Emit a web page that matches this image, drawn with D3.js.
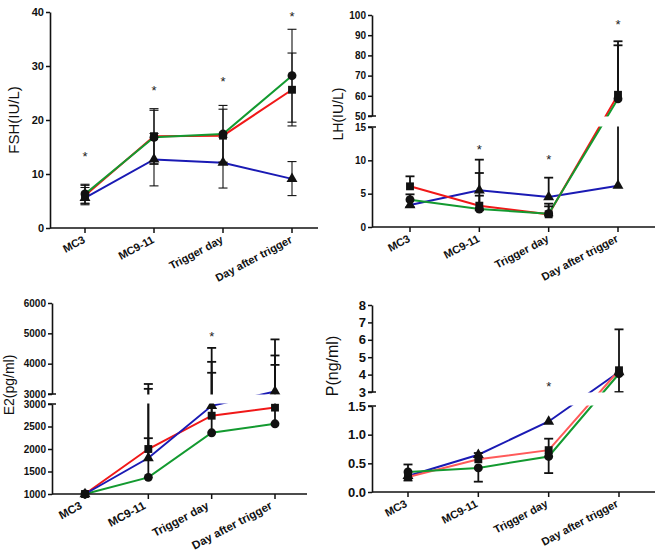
<!DOCTYPE html>
<html lang="en">
<head>
<meta charset="UTF-8">
<title>Hormone levels by day</title>
<script src="https://d3js.org/d3.v7.min.js"></script>
<style>
  body { margin: 0; background: #fff; }
  svg { display: block; font-family: "Liberation Sans", Arial, sans-serif; }
</style>
</head>
<body>
<div id="chart"></div>
<script>
const days = ["MC3", "MC9-11", "Trigger day", "Day after trigger"];

// FSH (IU/L)
const fshRed = [6.0, 17.0, 17.1, 25.6];
const fshRedHi = [7.9, 22.1, 22.0, 32.4];
const fshRedLo = [4.5, 11.9, 12.2, 18.9];
const fshGreen = [6.3, 16.8, 17.4, 28.2];
const fshGreenHi = [8.1, 21.8, 22.7, 36.8];
const fshGreenLo = [4.6, 11.8, 12.1, 19.6];
const fshBlue = [5.6, 12.7, 12.1, 9.1];
const fshBlueHi = [7.5, 17.5, 16.8, 12.3];
const fshBlueLo = [4.3, 7.8, 7.4, 6.0];
const fshStars = [13.5, 25.8, 27.4, 39.5];
const fshTicks = [0, 10, 20, 30, 40];

// LH (IU/L)
const lhRed = [6.1, 3.2, 1.9, 60.5];
const lhRedHi = [7.6, 8.1, 3.5, 87];
const lhRedLo = [6.1, 3.2, 1.9, 60.5];
const lhGreen = [4.1, 2.7, 2.0, 58.5];
const lhGreenHi = [4.9, 4.7, 3.1, 85];
const lhGreenLo = [4.1, 2.5, 1.7, 58.5];
const lhBlue = [3.3, 5.5, 4.5, 6.2];
const lhBlueHi = [3.3, 10.1, 7.4, 40];
const lhBlueLo = [3.0, 5.5, 4.5, 6.2];
const lhStars = [null, 11.9, 10.3, 96];
const lhTicksLow = [0, 5, 10, 15];
const lhTicksHigh = [50, 60, 70, 80, 90, 100];

// E2 (pg/ml)
const e2Red = [1000, 2000, 2740, 2920];
const e2RedHi = [1000, 3330, 4520, 4270];
const e2Green = [1000, 1370, 2360, 2560];
const e2GreenHi = [1000, 2240, 3700, 3960];
const e2Blue = [1000, 1800, 2960, 3080];
const e2BlueHi = [1000, 3170, 4060, 4800];
const e2Stars = [null, null, 4950, null];
const e2TicksLow = [1000, 1500, 2000, 2500, 3000];
const e2TicksHigh = [3000, 4000, 5000, 6000];

// P (ng/ml)
const pRed = [0.26, 0.57, 0.73, 4.25];
const pRedHi = [0.48, 0.57, 0.93, 6.6];
const pRedLo = [0.20, 0.57, 0.73, 4.25];
const pGreen = [0.35, 0.42, 0.62, 4.05];
const pGreenHi = [0.35, 0.42, 0.62, 4.05];
const pGreenLo = [0.35, 0.18, 0.33, 3.0];
const pBlue = [0.28, 0.65, 1.23, 4.15];
const pBlueHi = [0.28, 0.68, 1.23, 4.15];
const pStars = [null, null, 3.4, null];
const pTicksLow = [0, 0.5, 1.0, 1.5];
const pTicksHigh = [3, 4, 5, 6, 7, 8];

const RED = "#f01818", GREEN = "#139a30", BLUE = "#1a1ab4", PINK = "#ff5a5a";

const svg = d3.select("#chart").append("svg")
    .attr("width", 660).attr("height", 555);

function panel(c) {
  const g = svg.append("g");
  const x = d3.scalePoint().domain(days).range(c.cats);
  // polylinear scale: lower segment then upper segment, gap squeezed between
  const dom = [], rng = [];
  c.segs.forEach(s => { dom.push(s.dom[0], s.dom[1]); rng.push(s.px[0], s.px[1]); });
  const y = d3.scaleLinear().domain(dom).range(rng).clamp(true);

  // lines
  c.series.forEach(s => {
    g.append("path")
      .datum(s.vals)
      .attr("fill", "none")
      .attr("stroke", s.color)
      .attr("stroke-width", c.lw)
      .attr("d", d3.line().x((d, i) => x(days[i])).y(d => y(d)));
  });

  // error bars
  c.series.forEach(s => {
    s.vals.forEach((v, i) => {
      const ends = [];
      if (s.hi && s.hi[i] > v) ends.push(s.hi[i]);
      if (s.lo && s.lo[i] < v) ends.push(s.lo[i]);
      ends.forEach(e => {
        const xx = x(days[i]);
        g.append("line").attr("x1", xx).attr("x2", xx)
          .attr("y1", y(v)).attr("y2", y(e))
          .attr("stroke", "#111").attr("stroke-width", c.ew);
        g.append("line").attr("x1", xx - 4.5).attr("x2", xx + 4.5)
          .attr("y1", y(e)).attr("y2", y(e))
          .attr("stroke", "#111").attr("stroke-width", c.ew);
      });
    });
  });

  // markers
  c.series.forEach(s => {
    g.selectAll(null).data(s.vals).join("path")
      .attr("transform", (d, i) => `translate(${x(days[i])},${y(d)})`)
      .attr("d", d3.symbol().type(s.marker).size(s.marker === d3.symbolTriangle ? 52 : 62))
      .attr("fill", "#111");
  });

  // white band over the axis break
  if (c.segs.length > 1) {
    const a = c.segs[0].px[1], b = c.segs[1].px[0];
    g.append("rect").attr("x", c.axisX + 1).attr("y", b + 0.5)
      .attr("width", c.axisEnd - c.axisX + 10).attr("height", a - b - 1)
      .attr("fill", "#fff");
  }

  // y axis segments
  c.segs.forEach((s, k) => {
    const sy = d3.scaleLinear().domain(s.dom).range(s.px);
    const ax = g.append("g")
      .attr("transform", `translate(${c.axisX},0)`)
      .call(d3.axisLeft(sy).tickValues(s.ticks).tickSize(4).tickSizeOuter(0)
        .tickPadding(2).tickFormat(s.fmt || d3.format("d")));
    ax.select(".domain").attr("stroke-width", 1.6).attr("stroke", "#111");
    ax.selectAll(".tick line").attr("stroke-width", 1.5).attr("stroke", "#111");
    ax.selectAll(".tick text").attr("font-size", c.tf).attr("font-weight", "bold")
      .attr("fill", "#111").attr("font-family", "Liberation Sans, Arial, sans-serif");
    if (c.segs.length > 1) {
      const edge = k === 0 ? s.px[1] : s.px[0];
      g.append("line").attr("x1", c.axisX - 4).attr("x2", c.axisX + 4)
        .attr("y1", edge).attr("y2", edge).attr("stroke", "#111").attr("stroke-width", 1.5);
    }
  });

  // x axis
  const base = c.segs[0].px[0];
  g.append("line").attr("x1", c.axisX).attr("x2", c.axisEnd)
    .attr("y1", base).attr("y2", base).attr("stroke", "#111").attr("stroke-width", 1.6);
  days.forEach(d => {
    g.append("line").attr("x1", x(d)).attr("x2", x(d))
      .attr("y1", base).attr("y2", base + 5).attr("stroke", "#111").attr("stroke-width", 1.5);
    g.append("text")
      .attr("transform", `translate(${x(d) + c.xo},${base + 14}) rotate(${c.rot})`)
      .attr("text-anchor", "end")
      .attr("font-size", c.xf).attr("font-weight", "bold").attr("fill", "#111")
      .text(d);
  });

  // significance marks
  c.stars.forEach((v, i) => {
    if (v == null) return;
    g.append("text").attr("x", x(days[i])).attr("y", y(v) + 6)
      .attr("text-anchor", "middle").attr("font-size", 13).attr("fill", "#222").text("*");
  });

  // axis title
  g.append("text")
    .attr("transform", `translate(${c.titleX},${c.titleY}) rotate(-90)`)
    .attr("text-anchor", "middle").attr("font-size", c.titleF).attr("fill", "#111")
    .text(c.title);
}

panel({
  axisX: 50, axisEnd: 318, cats: [85, 292], lw: 2, ew: 1.1, tf: 11, xf: 11, rot: -28, xo: 1,
  segs: [{ dom: [0, 40], px: [228, 12], ticks: fshTicks }],
  series: [
    { vals: fshBlue, hi: fshBlueHi, lo: fshBlueLo, color: BLUE, marker: d3.symbolTriangle },
    { vals: fshRed, hi: fshRedHi, lo: fshRedLo, color: RED, marker: d3.symbolSquare },
    { vals: fshGreen, hi: fshGreenHi, lo: fshGreenLo, color: GREEN, marker: d3.symbolCircle }
  ],
  stars: fshStars, title: "FSH(IU/L)", titleX: 19, titleY: 120, titleF: 15
});

panel({
  axisX: 372, axisEnd: 655, cats: [410, 618], lw: 2, ew: 1.8, tf: 10, xf: 11, rot: -28, xo: 1,
  segs: [
    { dom: [0, 15], px: [227, 127], ticks: lhTicksLow },
    { dom: [50, 100], px: [116, 15], ticks: lhTicksHigh }
  ],
  series: [
    { vals: lhBlue, hi: lhBlueHi, lo: lhBlueLo, color: BLUE, marker: d3.symbolTriangle },
    { vals: lhRed, hi: lhRedHi, lo: lhRedLo, color: RED, marker: d3.symbolSquare },
    { vals: lhGreen, hi: lhGreenHi, lo: lhGreenLo, color: GREEN, marker: d3.symbolCircle }
  ],
  stars: lhStars, title: "LH(IU/L)", titleX: 343, titleY: 114, titleF: 14
});

panel({
  axisX: 52, axisEnd: 307, cats: [85, 275], lw: 2, ew: 1.8, tf: 10, xf: 11.5, rot: -28, xo: -2,
  segs: [
    { dom: [1000, 3000], px: [494, 404], ticks: e2TicksLow },
    { dom: [3000, 6000], px: [394, 303], ticks: e2TicksHigh }
  ],
  series: [
    { vals: e2Green, hi: e2GreenHi, color: GREEN, marker: d3.symbolCircle },
    { vals: e2Red, hi: e2RedHi, color: RED, marker: d3.symbolSquare },
    { vals: e2Blue, hi: e2BlueHi, color: BLUE, marker: d3.symbolTriangle }
  ],
  stars: e2Stars, title: "E2(pg/ml)", titleX: 14, titleY: 385, titleF: 14
});

panel({
  axisX: 372, axisEnd: 655, cats: [408, 619], lw: 2, ew: 1.8, tf: 13, xf: 11, rot: -28, xo: 0,
  segs: [
    { dom: [0, 1.5], px: [492, 406], ticks: pTicksLow, fmt: d3.format(".1f") },
    { dom: [3, 8], px: [392, 305], ticks: pTicksHigh }
  ],
  series: [
    { vals: pBlue, hi: pBlueHi, color: BLUE, marker: d3.symbolTriangle },
    { vals: pRed, hi: pRedHi, lo: pRedLo, color: PINK, marker: d3.symbolSquare },
    { vals: pGreen, hi: pGreenHi, lo: pGreenLo, color: GREEN, marker: d3.symbolCircle }
  ],
  stars: pStars, title: "P(ng/ml)", titleX: 338, titleY: 366, titleF: 16
});
</script>
</body>
</html>
